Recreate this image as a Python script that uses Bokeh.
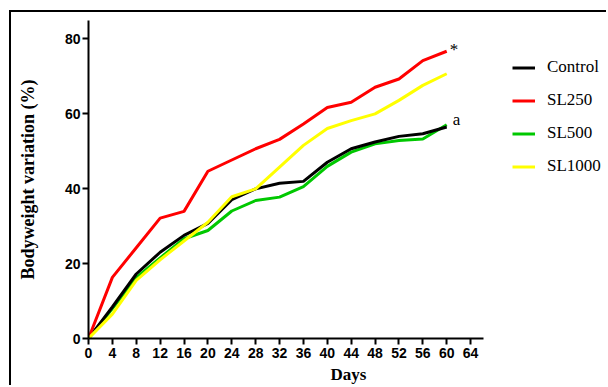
from bokeh.plotting import figure
from bokeh.models import Range1d, FixedTicker, Legend, LegendItem
from bokeh.core.properties import value
from bokeh.embed import file_html
from bokeh.resources import INLINE

# ---- data ----
days = [0, 4, 8, 12, 16, 20, 24, 28, 32, 36, 40, 44, 48, 52, 56, 60]
control = [0, 8.4, 17.2, 23.0, 27.5, 30.7, 37.0, 39.9, 41.4, 41.9, 47.0, 50.6, 52.4, 53.9, 54.6, 56.4]
sl250 = [0, 16.3, 24.2, 32.1, 33.9, 44.6, 47.6, 50.6, 53.1, 57.2, 61.6, 63.0, 67.0, 69.2, 74.1, 76.6]
sl500 = [0, 8.0, 16.2, 21.5, 26.6, 28.8, 34.0, 36.8, 37.7, 40.5, 45.9, 49.7, 51.9, 52.8, 53.2, 57.0]
sl1000 = [0, 6.5, 15.5, 21.0, 26.0, 31.0, 37.8, 39.9, 45.7, 51.5, 56.0, 58.1, 59.9, 63.5, 67.5, 70.6]
series_names = ["Control", "SL250", "SL500", "SL1000"]
x_ticks = list(range(0, 65, 4))
y_ticks = [0, 20, 40, 60, 80]
x_title = "Days"
y_title = "Bodyweight variation (%)"
marks = ["*", "a"]

colors = {"Control": "#000000", "SL250": "#ff0000", "SL500": "#00c800", "SL1000": "#ffff00"}

# frame extends to the right edge so the legend can sit inside it;
# the x axis line itself is bounded to 0..66.2
p = figure(width=597, height=375, output_backend="svg", toolbar_location=None,
           x_range=Range1d(0, 87.1), y_range=Range1d(0, 84.8),
           min_border_left=77, min_border_right=0, min_border_top=8,
           min_border_bottom=49)
p.margin = (10, 0, 0, 9)
p.styles = {"border-left": "2px solid black", "border-top": "2px solid black"}
p.outline_line_color = None
p.xgrid.visible = False
p.ygrid.visible = False
p.background_fill_color = "white"
p.border_fill_color = "white"

for ax in (p.xaxis[0], p.yaxis[0]):
    ax.axis_line_width = 2
    ax.axis_line_color = "black"
    ax.major_tick_line_width = 2
    ax.major_tick_line_color = "black"
    ax.major_tick_out = 6
    ax.major_tick_in = 0
    ax.minor_tick_line_color = None
    ax.major_label_text_font = "Liberation Sans"
    ax.major_label_text_font_size = "14px"
    ax.major_label_text_font_style = "bold"
    ax.major_label_text_color = "black"
    ax.axis_label_text_font = "Liberation Serif"
    ax.axis_label_text_font_style = "bold"
    ax.axis_label_text_color = "black"

p.xaxis[0].ticker = FixedTicker(ticks=x_ticks)
p.xaxis[0].bounds = (0, 66.2)
p.yaxis[0].ticker = FixedTicker(ticks=y_ticks)
p.xaxis[0].major_label_standoff = 3
p.yaxis[0].major_label_standoff = 2

p.yaxis[0].axis_label = y_title
p.yaxis[0].axis_label_text_font_size = "18px"
p.yaxis[0].axis_label_standoff = 24

p.xaxis[0].axis_label = x_title
p.xaxis[0].axis_label_text_font_size = "17px"
p.xaxis[0].axis_label_standoff = 4

data = {"Control": control, "SL250": sl250, "SL500": sl500, "SL1000": sl1000}
renderers = {}
for name in ["SL500", "Control", "SL250", "SL1000"]:
    renderers[name] = p.line(days, data[name], line_color=colors[name], line_width=3)

items = [LegendItem(label=n, renderers=[renderers[n]]) for n in series_names]
legend = Legend(items=items, location=(424, 162), padding=0, margin=0,
                spacing=13, glyph_height=17, glyph_width=23, label_height=17,
                label_standoff=12, border_line_color=None,
                background_fill_alpha=0,
                label_text_font="Liberation Serif", label_text_font_size="17px",
                label_text_color="black")
p.add_layout(legend, "center")

p.text(x=[days[-1]], y=[sl250[-1]], text=[marks[0]], x_offset=3, y_offset=-2,
       text_font=value("Liberation Serif"), text_font_size="17px",
       text_baseline="alphabetic", text_color="black")
p.text(x=[days[-1]], y=[sl500[-1]], text=[marks[1]], x_offset=6, y_offset=-5,
       text_font=value("Liberation Serif"), text_font_size="17px",
       text_baseline="alphabetic", text_color="black")

open("out.html", "w").write(file_html(p, INLINE))
